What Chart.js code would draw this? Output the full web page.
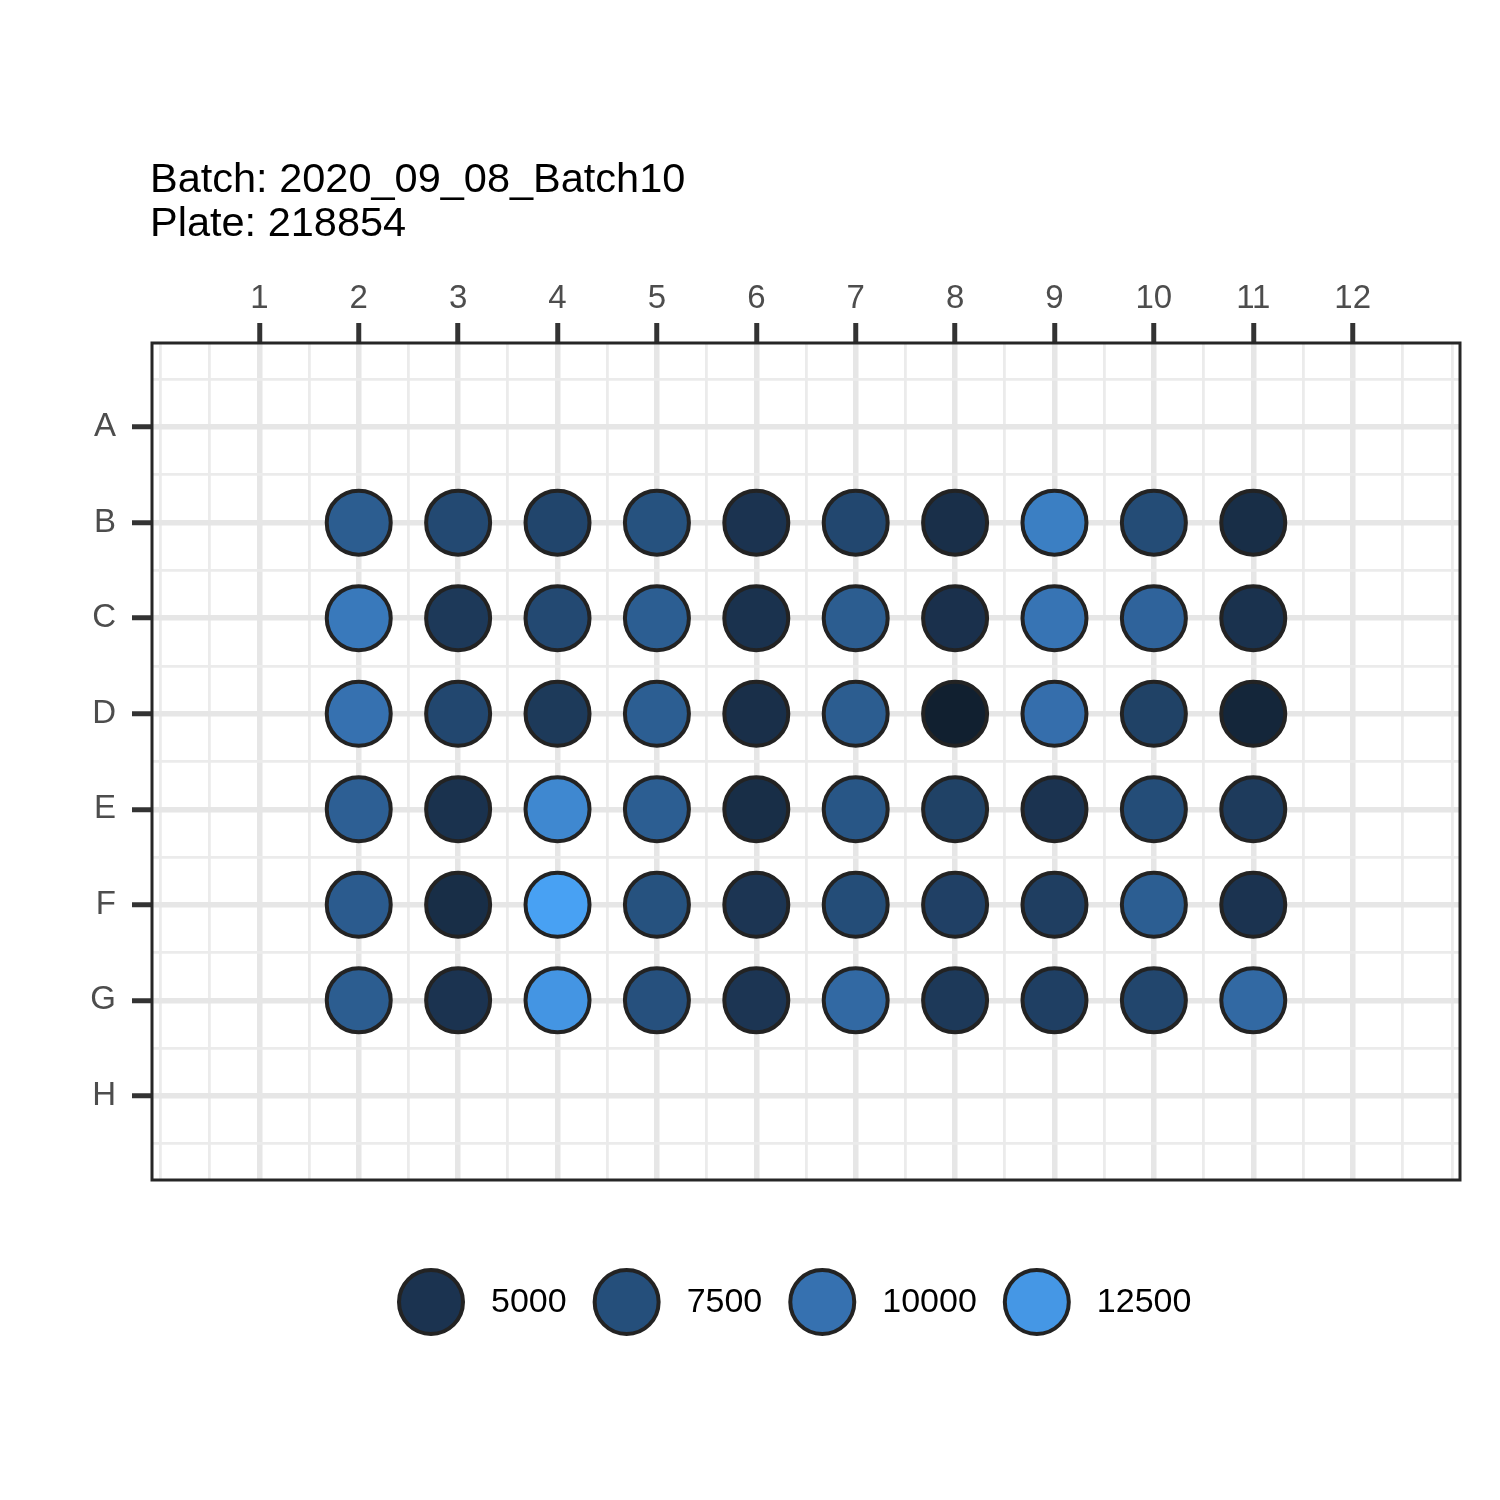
<!DOCTYPE html>
<html>
<head>
<meta charset="utf-8">
<script src="https://cdn.jsdelivr.net/npm/chart.js@4/dist/chart.umd.min.js"></script>
<style>
html,body{margin:0;padding:0;background:#ffffff;}
#wrap{width:1500px;height:1500px;}
</style>
</head>
<body>
<div id="wrap"><canvas id="c" width="1500" height="1500"></canvas></div>
<script>
// ---- data ----
const titleLines = ['Batch: 2020_09_08_Batch10', 'Plate: 218854'];
const rowLabels = ['A', 'B', 'C', 'D', 'E', 'F', 'G', 'H'];
const colLabels = [1, 2, 3, 4, 5, 6, 7, 8, 9, 10, 11, 12];
const filledRows = ['B', 'C', 'D', 'E', 'F', 'G'];
const filledCols = [2, 3, 4, 5, 6, 7, 8, 9, 10, 11];
const valuesB = [8500, 7000, 6600, 7700, 5000, 6800, 4700, 10900, 7200, 4600];
const valuesC = [10500, 5500, 7000, 8600, 4900, 8500, 4800, 10200, 9000, 4900];
const valuesD = [10000, 6800, 5600, 8600, 4700, 8500, 3550, 9800, 6300, 4000];
const valuesE = [8700, 4900, 11500, 8600, 4600, 8000, 6300, 5000, 7300, 5700];
const valuesF = [8400, 4600, 13300, 7700, 5200, 7300, 6200, 6000, 8600, 5000];
const valuesG = [8500, 5000, 12400, 7600, 5200, 9400, 5500, 6100, 6700, 9400];
const rowValues = [valuesB, valuesC, valuesD, valuesE, valuesF, valuesG];
const legendBreaks = [5000, 7500, 10000, 12500];

// ---- colour scale (styling) ----
const colorStops = [
  [3500, [17, 31, 47]],
  [5000, [27, 51, 80]],
  [7500, [37, 79, 123]],
  [10000, [54, 113, 176]],
  [12500, [69, 151, 229]],
  [13500, [73, 164, 246]]
];
function colorFor(v) {
  if (v == null) return '#000';
  if (v <= colorStops[0][0]) return 'rgb(' + colorStops[0][1].join(',') + ')';
  for (let i = 1; i < colorStops.length; i++) {
    if (v <= colorStops[i][0]) {
      const [a, ca] = colorStops[i - 1], [b, cb] = colorStops[i];
      const t = (v - a) / (b - a);
      const c = ca.map((x, k) => Math.round(x + (cb[k] - x) * t));
      return 'rgb(' + c.join(',') + ')';
    }
  }
  return 'rgb(' + colorStops[colorStops.length - 1][1].join(',') + ')';
}

const points = [];
filledRows.forEach((r, ri) => {
  filledCols.forEach((c, ci) => {
    points.push({ x: c, y: rowLabels.indexOf(r) + 1, v: rowValues[ri][ci] });
  });
});

const FONT = 'Liberation Sans, Arial, Helvetica, sans-serif';
const xGrid = [];
for (let v = 0; v <= 13; v += 0.5) xGrid.push(v);
const yGrid = [];
for (let v = 0.5; v <= 8.5; v += 0.5) yGrid.push(v);

function isMajorX(v) { return Number.isInteger(v) && v >= 1 && v <= colLabels.length; }
function isMajorY(v) { return Number.isInteger(v) && v >= 1 && v <= rowLabels.length; }

const R = 32, BW = 4, EDGE = '#232323';

const deco = {
  id: 'deco',
  afterDraw(chart) {
    const ctx = chart.ctx, a = chart.chartArea;
    ctx.save();
    // panel border
    ctx.strokeStyle = '#262626';
    ctx.lineWidth = 3;
    ctx.strokeRect(a.left, a.top, a.right - a.left, a.bottom - a.top);
    // title
    ctx.fillStyle = '#000000';
    ctx.font = '41.5px ' + FONT;
    ctx.textAlign = 'left';
    ctx.textBaseline = 'alphabetic';
    ctx.fillText(titleLines[0], a.left - 2, a.top - 151);
    ctx.fillText(titleLines[1], a.left - 2, a.top - 107);
    // legend
    ctx.font = '34px ' + FONT;
    const gapText = 26, gapNext = 26;
    let x = 397;
    const cy = 1302;
    legendBreaks.forEach((b) => {
      const cx = x + R + BW / 2;
      ctx.beginPath();
      ctx.arc(cx, cy, R, 0, Math.PI * 2);
      ctx.fillStyle = colorFor(b);
      ctx.fill();
      ctx.lineWidth = BW;
      ctx.strokeStyle = EDGE;
      ctx.stroke();
      ctx.fillStyle = '#000000';
      ctx.textBaseline = 'middle';
      const tx = cx + R + BW / 2 + gapText;
      ctx.fillText(String(b), tx, cy + 1);
      x = tx + ctx.measureText(String(b)).width + gapNext;
    });
    ctx.restore();
  }
};

new Chart(document.getElementById('c').getContext('2d'), {
  type: 'scatter',
  data: {
    datasets: [{
      data: points,
      pointRadius: R,
      pointHoverRadius: R,
      borderWidth: BW,
      borderColor: EDGE,
      backgroundColor: (c) => colorFor(c.raw ? c.raw.v : null)
    }]
  },
  options: {
    responsive: false,
    animation: false,
    events: [],
    layout: { padding: { top: 263, left: 72, right: 40, bottom: 320 } },
    plugins: { legend: { display: false }, tooltip: { enabled: false }, title: { display: false } },
    scales: {
      x: {
        type: 'linear',
        position: 'top',
        min: -0.08,
        max: 13.08,
        afterFit(s) { s.height = 80; },
        afterBuildTicks(s) { s.ticks = xGrid.map(v => ({ value: v })); },
        border: { display: false },
        grid: {
          color: (c) => (c.tick && isMajorX(c.tick.value)) ? '#e6e6e6' : '#ebebeb',
          lineWidth: (c) => (c.tick && isMajorX(c.tick.value)) ? 5.5 : 2.8,
          tickColor: (c) => (c.tick && isMajorX(c.tick.value)) ? '#333333' : 'rgba(0,0,0,0)',
          tickWidth: 5,
          tickLength: 20,
          drawTicks: true
        },
        ticks: {
          autoSkip: false,
          maxRotation: 0,
          padding: 4,
          color: '#4d4d4d',
          font: { family: FONT, size: 33 },
          callback: (v) => isMajorX(v) ? String(colLabels[v - 1]) : ''
        }
      },
      y: {
        type: 'linear',
        reverse: true,
        min: 0.12,
        max: 8.88,
        afterFit(s) { s.width = 80; },
        afterBuildTicks(s) { s.ticks = yGrid.map(v => ({ value: v })); },
        border: { display: false },
        grid: {
          color: (c) => (c.tick && isMajorY(c.tick.value)) ? '#e6e6e6' : '#ebebeb',
          lineWidth: (c) => (c.tick && isMajorY(c.tick.value)) ? 5.5 : 2.8,
          tickColor: (c) => (c.tick && isMajorY(c.tick.value)) ? '#333333' : 'rgba(0,0,0,0)',
          tickWidth: 5,
          tickLength: 20,
          drawTicks: true
        },
        ticks: {
          autoSkip: false,
          padding: 16,
          color: '#4d4d4d',
          font: { family: FONT, size: 33 },
          callback: (v) => isMajorY(v) ? rowLabels[v - 1] : ''
        }
      }
    }
  },
  plugins: [deco]
});
</script>
</body>
</html>
